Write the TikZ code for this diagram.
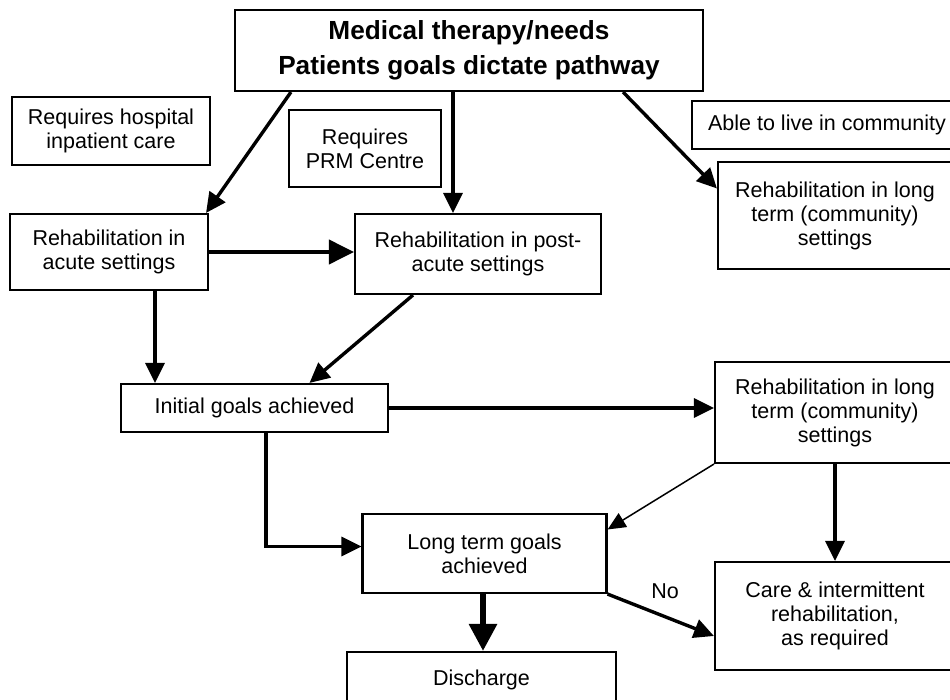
\documentclass[tikz,border=0pt]{standalone}
\usepackage{fontspec}
\setmainfont{Liberation Sans}
\usetikzlibrary{arrows.meta}
\begin{document}
\begin{tikzpicture}[x=1pt,y=-1pt,
  box/.style={draw,line width=2.1pt,align=center,inner sep=0pt,
    font=\fontsize{21.5}{24}\selectfont},
  headbox/.style={box,font=\bfseries\fontsize{26.2}{35}\selectfont},
  conn/.style={line width=3.4pt,-{Triangle[length=20pt,width=19pt]}},
  thickconn/.style={line width=4pt,-{Triangle[length=25pt,width=24pt]}},
  heavyconn/.style={line width=6pt,-{Triangle[length=27pt,width=27pt]}},
  thinconn/.style={line width=1.5pt,-{Triangle[length=18pt,width=16pt]}},
  lbl/.style={font=\fontsize{21.5}{24}\selectfont,inner sep=0pt}]
\useasboundingbox (0,0) rectangle (950,700);
\fill[white] (0,0) rectangle (950,700);

% boxes
\node[headbox,minimum width=468pt,minimum height=81pt] (top) at (469,50.5)
  {Medical therapy/needs\\Patients goals dictate pathway};
\node[box,minimum width=198pt,minimum height=68pt] (hosp) at (111,131)
  {Requires hospital\\inpatient care};
\node[box,minimum width=152pt,minimum height=77pt] (prm) at (365,148.5)
  {Requires\\PRM Centre};
\node[box,minimum width=270pt,minimum height=48pt] (able) at (827,125)
  {Able to live in community};
\node[box,minimum width=234pt,minimum height=107pt] (lta) at (835,215.5)
  {Rehabilitation in long\\term (community)\\settings};
\node[box,minimum width=198pt,minimum height=76pt] (acute) at (109,252)
  {Rehabilitation in\\acute settings};
\node[box,minimum width=246pt,minimum height=80pt] (post) at (478,254)
  {Rehabilitation in post-\\acute settings};
\node[box,minimum width=267pt,minimum height=48pt] (init) at (254.5,408)
  {Initial goals achieved};
\node[box,minimum width=240pt,minimum height=101pt] (ltb) at (835,412.5)
  {Rehabilitation in long\\term (community)\\settings};
\node[box,minimum width=244pt,minimum height=79pt] (ltg) at (484.5,553.5)
  {Long term goals\\achieved};
\node[box,minimum width=240pt,minimum height=108pt] (care) at (835,616)
  {Care \& intermittent\\rehabilitation,\\as required};
\node[box,minimum width=269pt,minimum height=56pt] (disch) at (481.5,680)
  {Discharge};

% connectors
\draw[conn] ([xshift=57pt]top.south west) -- ([xshift=-3pt]acute.north east);
\draw[conn] ([xshift=-16pt]top.south) -- ([xshift=-16pt]top.south |- post.north);
\draw[conn] ([xshift=-81pt]top.south east) -- ([yshift=27pt]lta.west);
\draw[thickconn] (acute.east) -- (acute.east -| post.west);
\draw[conn] ([xshift=46pt]acute.south) -- ([xshift=46pt]acute.south |- init.north);
\draw[conn] ([xshift=-65pt]post.south) -- ([xshift=55pt]init.north);
\draw[conn] (init.east) -- (init.east -| ltb.west);
\draw[conn] ([xshift=11.5pt]init.south) |- ([yshift=7pt]ltg.west);
\draw[thinconn] (ltb.south west) -- ([yshift=24pt]ltg.east);
\draw[conn] (ltb.south) -- (care.north);
\draw[conn] (ltg.south east) -- ([yshift=-20pt]care.west);
\draw[heavyconn] ([xshift=-1.5pt]ltg.south) -- ([xshift=1.5pt]disch.north);
\node[lbl] (no) at (665,591) {No};
\end{tikzpicture}
\end{document}
